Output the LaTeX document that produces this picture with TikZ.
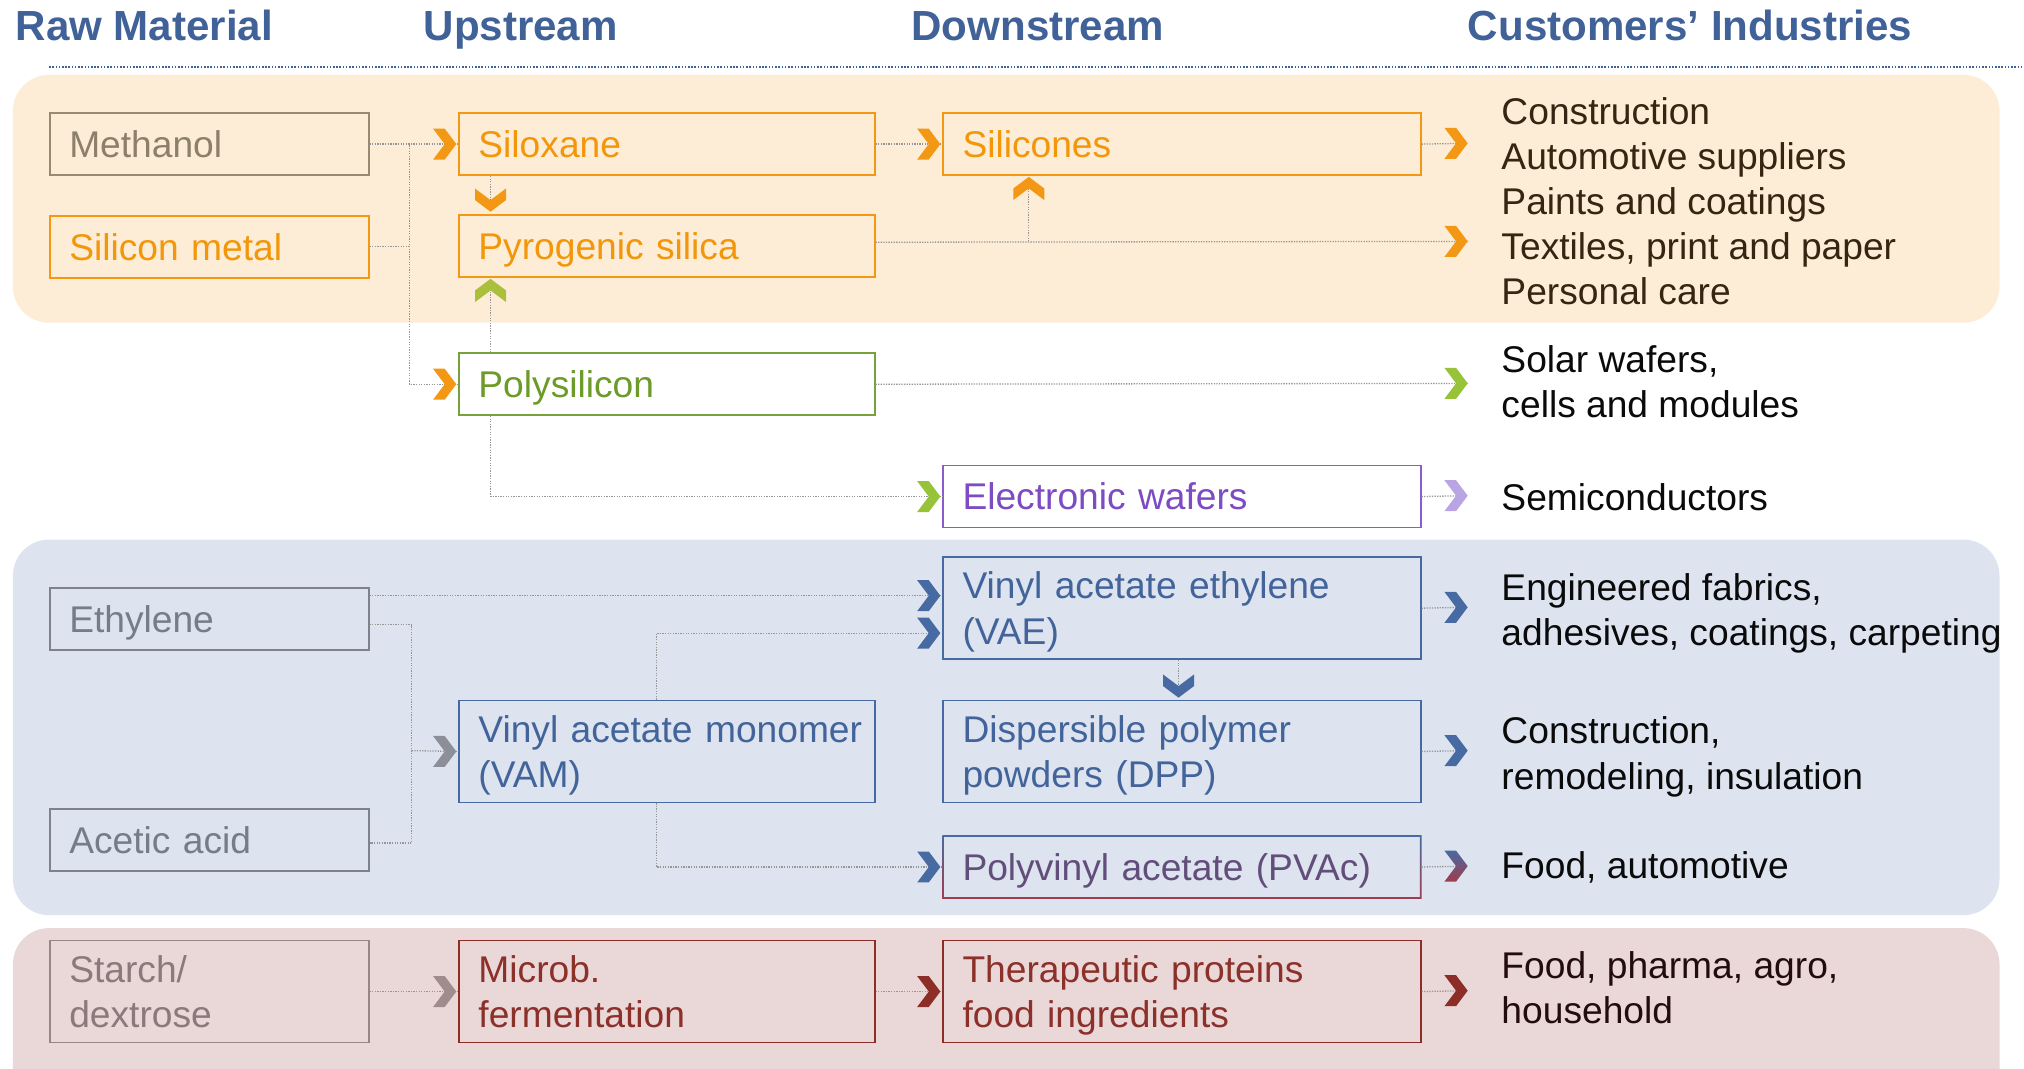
\documentclass[tikz,border=0pt]{standalone}
\usepackage{fontspec}
\setmainfont{Liberation Sans}
\usetikzlibrary{calc}
\definecolor{cHdr}{RGB}{64,98,152}
\definecolor{pOrange}{RGB}{253,237,214}
\definecolor{pBlue}{RGB}{221,228,239}
\definecolor{pRed}{RGB}{234,215,216}
\definecolor{cOr}{RGB}{243,152,20}
\definecolor{cOrT}{RGB}{242,150,10}
\definecolor{cMeth}{RGB}{150,138,115}
\definecolor{cMethT}{RGB}{140,128,108}
\definecolor{cGr}{RGB}{120,160,60}
\definecolor{cGrT}{RGB}{108,155,40}
\definecolor{cGrChA}{RGB}{170,192,60}
\definecolor{cGrChB}{RGB}{150,195,55}
\definecolor{cPu}{RGB}{140,92,205}
\definecolor{cPuT}{RGB}{125,75,195}
\definecolor{cPuCh}{RGB}{185,165,228}
\definecolor{cBl}{RGB}{72,106,162}
\definecolor{cBlT}{RGB}{66,100,155}
\definecolor{cGy}{RGB}{125,130,142}
\definecolor{cGyT}{RGB}{118,124,136}
\definecolor{cGyCh}{RGB}{140,143,152}
\definecolor{cSt}{RGB}{150,134,137}
\definecolor{cStT}{RGB}{138,122,126}
\definecolor{cStCh}{RGB}{160,140,142}
\definecolor{cRd}{RGB}{140,45,40}
\definecolor{cRdT}{RGB}{140,48,42}
\definecolor{cPvRed}{RGB}{160,60,75}
\definecolor{cPvT}{RGB}{98,78,122}
\definecolor{cConn}{RGB}{150,150,150}
\definecolor{cCustO}{RGB}{52,38,18}
\definecolor{cCustK}{RGB}{10,10,10}
\definecolor{cCustR}{RGB}{35,12,12}
\newcommand{\bstrut}{\rule[-0.22em]{0pt}{1.156em}}
\newcommand{\boxfont}{\fontsize{28.8}{35}\selectfont}
\newcommand{\hdrfont}{\fontsize{32.6}{38}\selectfont\bfseries}
\newcommand{\mychev}[2]{\path[shift={(#2)},#1] (0,0) -- (-9,-12) -- (-18,-12) -- (-9,0) -- (-18,12) -- (-9,12) -- cycle;}
\tikzset{
  box/.style={draw, line width=1.3pt, anchor=north west, inner xsep=15pt, inner ysep=0pt, align=left, font=\boxfont, execute at begin node=\bstrut, execute at end node=\bstrut},
  rawbox/.style={box, minimum width=247pt, text width=217pt},
  upbox/.style={box, minimum width=322pt, text width=292pt},
  dnbox/.style={box, minimum width=370pt, text width=340pt},
  one/.style={minimum height=48pt},
  two/.style={minimum height=79pt},
  cust/.style={anchor=west, inner sep=0pt, align=left, font=\boxfont, execute at begin node=\bstrut, execute at end node=\bstrut},
  hdrs/.style={anchor=base west, inner sep=0pt, font=\hdrfont, text=cHdr},
  conn/.style={draw=cConn, line width=1pt, dash pattern=on 1pt off 1pt},
}
\begin{document}
\begin{tikzpicture}[x=1pt,y=-1pt]
\useasboundingbox (0,0) rectangle (1568,828);
\clip (0,0) rectangle (1568,828);
\fill[white] (0,0) rectangle (1568,828);
% panels
\fill[pOrange, rounded corners=28pt] (10,58) rectangle (1549,250);
\fill[pBlue, rounded corners=28pt] (10,418) rectangle (1549,709);
\fill[pRed, rounded corners=28pt] (10,719) rectangle (1549,870);
% headers
\node[hdrs] (h1) at (12,31) {Raw Material};
\node[hdrs] (h2) at (328,31) {Upstream};
\node[hdrs] (h3) at (706,31) {Downstream};
\node[hdrs] (h4) at (1137,31) {Customers’ Industries};
\draw[cHdr, line width=1.2pt, dash pattern=on 1.2pt off 1.3pt] (38,52) -- (1568,52);
% boxes
\node[rawbox, one, draw=cMeth, text=cMethT] (meth) at (38,87) {Methanol};
\node[rawbox, one, draw=cOr, text=cOrT] (simet) at (38,166.5) {Silicon metal};
\node[upbox, one, draw=cOr, text=cOrT] (silox) at (355,87) {Siloxane};
\node[upbox, one, draw=cOr, text=cOrT] (pyro) at (355,166) {Pyrogenic silica};
\node[upbox, one, draw=cGr, text=cGrT] (polysi) at (355,273) {Polysilicon};
\node[dnbox, one, draw=cOr, text=cOrT] (silic) at (730,87) {Silicones};
\node[dnbox, one, draw=cPu, text=cPuT] (ewaf) at (730,360) {Electronic wafers};
\node[rawbox, one, draw=cGy, text=cGyT] (ethyl) at (38,455) {Ethylene};
\node[rawbox, one, draw=cGy, text=cGyT] (acet) at (38,626) {Acetic acid};
\node[upbox, two, draw=cBl, text=cBlT] (vam) at (355,542) {\mbox{Vinyl acetate monomer}\\(VAM)};
\node[dnbox, two, draw=cBl, text=cBlT] (vae) at (730,431) {Vinyl acetate ethylene\\(VAE)};
\node[dnbox, two, draw=cBl, text=cBlT] (dpp) at (730,542) {Dispersible polymer\\powders (DPP)};
\node[dnbox, one, draw=none, text=cPvT] (pvac) at (730,647) {Polyvinyl acetate (PVAc)};
\shade[top color=cBl, bottom color=cPvRed, even odd rule] (pvac.north west) rectangle (pvac.south east) ([shift={(1.3pt,-1.3pt)}]pvac.north west) rectangle ([shift={(-1.3pt,1.3pt)}]pvac.south east);
\node[rawbox, two, draw=cSt, text=cStT] (starch) at (38,728) {Starch/\\dextrose};
\node[upbox, two, draw=cRd, text=cRdT] (micro) at (355,728) {Microb.\\fermentation};
\node[dnbox, two, draw=cRd, text=cRdT] (thera) at (730,728) {Therapeutic proteins\\food ingredients};
% customers
\node[cust, text=cCustO] (c1) at (1163,159) {Construction\\Automotive suppliers\\Paints and coatings\\Textiles, print and paper\\Personal care};
\node[cust, text=cCustK] (c2) at (1163,298.5) {Solar wafers,\\cells and modules};
\node[cust, text=cCustK] (c3) at (1163,385) {Semiconductors};
\node[cust, text=cCustK] (c4) at (1163,475.5) {Engineered fabrics,\\adhesives, coatings, carpeting};
\node[cust, text=cCustK] (c5) at (1163,586.5) {Construction,\\remodeling, insulation};
\node[cust, text=cCustK] (c6) at (1163,670) {Food, automotive};
\node[cust, text=cCustR] (c7) at (1163,768.5) {Food, pharma, agro,\\household};
% chevron tip coordinates
\coordinate (kA) at (1137,111);
\coordinate (kB) at (1137,187);
\coordinate (kC) at (797,137);
\coordinate (kD) at (380,164);
\coordinate (kE) at (380,216);
\coordinate (kF) at (1137,297);
\coordinate (kG) at (1137,384);
\coordinate (kH) at (728.5,461.5);
\coordinate (kI) at (728.5,490.5);
\coordinate (kJ) at (913,540.5);
\coordinate (kK) at (1137,470.5);
\coordinate (kL) at (1137,581.5);
\coordinate (kM) at (1137,671);
\coordinate (kN) at (1137,767.5);
\coordinate (j2) at (319,581.5);
\coordinate (e2) at ([yshift=-29pt]ethyl.north east);
\coordinate (a2) at ([yshift=-27pt]acet.north east);
% connectors: silicon chain
\draw[conn] (meth.east) -- (silox.west);
\draw[conn] (meth.east) -- ++(31,0) |- (polysi.west);
\draw[conn] (simet.east) -- ++(31,0);
\draw[conn] (silox.south -| kD) -- (kD);
\draw[conn] (silox.east) -- (silic.west);
\draw[conn] (silic.east) -- (kA);
\draw[conn] ([yshift=3pt]pyro.east) -- (kB);
\draw[conn] (kC |- kB) -- (kC);
\draw[conn] (polysi.north -| kE) -- (kE);
\draw[conn] (polysi.east) -- (kF);
\draw[conn] (polysi.south -| kE) |- (ewaf.west);
\draw[conn] (ewaf.east) -- (kG);
% connectors: vinyl chain
\draw[conn] (ethyl.east |- kH) -- (kH);
\draw[conn] (e2) -| (j2 |- a2) -- (a2);
\draw[conn] (j2) -- (vam.west);
\draw[conn] ([xshift=-8pt]vam.north) |- (kI);
\draw[conn] ([xshift=-8pt]vam.south) |- (pvac.west);
\draw[conn] (vae.south -| kJ) -- (kJ);
\draw[conn] (vae.east) -- (kK);
\draw[conn] (dpp.east) -- (kL);
\draw[conn] (pvac.east) -- (kM);
% connectors: bio chain
\draw[conn] (starch.east) -- (micro.west);
\draw[conn] (micro.east) -- (thera.west);
\draw[conn] (thera.east) -- (kN);
% chevrons
\mychev{fill=cOr}{[xshift=-1.5pt]silox.west}
\mychev{fill=cOr}{[xshift=-1.5pt]polysi.west}
\mychev{fill=cOr, rotate=-90}{kD}
\mychev{fill=cOr}{[xshift=-1.5pt]silic.west}
\mychev{fill=cOr}{kA}
\mychev{fill=cOr}{kB}
\mychev{fill=cOr, rotate=90}{kC}
\mychev{fill=cGrChA, rotate=90}{kE}
\mychev{fill=cGrChB}{kF}
\mychev{fill=cGrChB}{[xshift=-1.5pt]ewaf.west}
\mychev{fill=cPuCh}{kG}
\mychev{fill=cBl}{kH}
\mychev{fill=cBl}{kI}
\mychev{fill=cGyCh}{[xshift=-1.5pt]vam.west}
\mychev{fill=cBl}{[xshift=-1.5pt]pvac.west}
\mychev{fill=cBl, rotate=-90}{kJ}
\mychev{fill=cBl}{kK}
\mychev{fill=cBl}{kL}
\mychev{top color=cBl, bottom color=cPvRed}{kM}
\mychev{fill=cStCh}{[xshift=-1.5pt]micro.west}
\mychev{fill=cRd}{[xshift=-1.5pt]thera.west}
\mychev{fill=cRd}{kN}
\end{tikzpicture}
\end{document}
